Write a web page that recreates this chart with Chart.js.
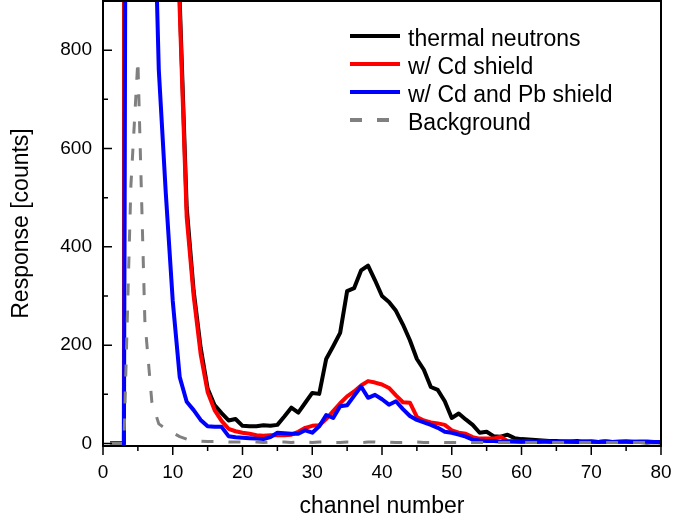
<!DOCTYPE html>
<html>
<head>
<meta charset="utf-8">
<script src="https://cdn.jsdelivr.net/npm/chart.js@4.4.0/dist/chart.umd.min.js"></script>
<style>
  html, body { margin: 0; padding: 0; background: #fff; }
  #wrap { width: 673px; height: 521px; }
</style>
</head>
<body>
<div id="wrap"><canvas id="grafico-espectro"></canvas></div>
<script>
// canais 1..80
const channels = Array.from({ length: 80 }, (_, i) => i + 1);

const thermal = [0, 0, 0, 20000, 16000, 12000, 9000, 6000, 4000, 2200,
    900, 480, 310, 195, 112, 78, 62, 47, 50, 36,
    35, 35, 37, 36, 38, 55, 73, 63, 83, 103,
    101, 172, 198, 225, 310, 316, 352, 362, 332, 300,
    288, 270, 242, 210, 172, 150, 115, 109, 86, 52,
    61, 49, 38, 22, 24, 15, 14, 18, 11, 9,
    8, 7, 6, 5, 5, 4, 4, 5, 3, 4,
    3, 4, 3, 3, 4, 3, 3, 2, 3, 2];

const cdShield = [0, 0, 0, 20000, 15000, 10000, 7000, 4500, 3000, 1800,
    880, 460, 300, 182, 105, 68, 46, 30, 25, 22,
    20, 17, 16, 17, 17, 17, 18, 24, 32, 36,
    37, 50, 66, 82, 96, 106, 118, 127, 124, 120,
    113, 98, 84, 83, 54, 47, 43, 41, 38, 27,
    22, 20, 13, 10, 10, 10, 14, 5, 4, 3,
    4, 3, 4, 3, 3, 4, 3, 3, 4, 3,
    3, 4, 3, 3, 3, 4, 3, 3, 3, 3];

const cdPbShield = [0, 0, 0, 5000, 4000, 2500, 1300, 760, 510, 290,
    135, 85, 68, 48, 35, 34, 34, 15, 13, 12,
    11, 10, 9, 13, 22, 21, 20, 20, 27, 22,
    35, 58, 52, 76, 78, 97, 116, 93, 99, 90,
    79, 86, 70, 56, 48, 43, 38, 32, 24, 22,
    18, 14, 8, 6, 5, 5, 4, 4, 4, 4,
    4, 3, 4, 4, 3, 4, 4, 3, 4, 4,
    3, 4, 3, 4, 4, 3, 4, 4, 3, 3];

const background = [0, 0, 0, 525, 780, 250, 85, 40, 30, 22,
    14, 9, 6, 5, 4, 4, 4, 3, 3, 3,
    3, 3, 2, 3, 3, 3, 2, 3, 3, 2,
    3, 3, 2, 2, 3, 3, 2, 3, 3, 2,
    3, 2, 2, 3, 3, 2, 2, 3, 2, 2,
    2, 3, 2, 2, 2, 2, 2, 2, 2, 2,
    2, 2, 2, 2, 2, 2, 2, 2, 2, 2,
    2, 2, 2, 2, 2, 2, 2, 2, 2, 2];

const legendLabels = ["thermal neutrons", "w/ Cd shield", "w/ Cd and Pb shield", "Background"];
const xTicks = [0, 10, 20, 30, 40, 50, 60, 70, 80];
const yTicks = [0, 200, 400, 600, 800];

const fonte = '"Liberation Sans", Arial, sans-serif';

function pontos(valores) {
    return channels.map((c, i) => ({ x: c, y: valores[i] }));
}

// zera o padding automatico dos eixos para fixar a area do grafico
function semPadding(s) {
    s.paddingTop = 0;
    s.paddingBottom = 0;
    s.paddingLeft = 0;
    s.paddingRight = 0;
}

// moldura, ticks maiores e menores
const molduraPlugin = {
    id: 'moldura',
    afterDraw(chart) {
        const { ctx, chartArea: a, scales: { x, y } } = chart;
        ctx.save();
        ctx.strokeStyle = '#000';
        ctx.lineWidth = 2;
        ctx.strokeRect(a.left, a.top, a.right - a.left, a.bottom - a.top);
        ctx.lineWidth = 1.5;
        ctx.beginPath();
        xTicks.forEach((v, i) => {
            const px = x.getPixelForValue(v);
            ctx.moveTo(px, a.bottom);
            ctx.lineTo(px, a.bottom + 9);
            if (i < xTicks.length - 1) {
                const pm = x.getPixelForValue((v + xTicks[i + 1]) / 2);
                ctx.moveTo(pm, a.bottom);
                ctx.lineTo(pm, a.bottom + 5);
            }
        });
        yTicks.forEach((v, i) => {
            const py = y.getPixelForValue(v);
            ctx.moveTo(a.left, py);
            ctx.lineTo(a.left + 9, py);
            const pm = y.getPixelForValue(v + 100);
            if (pm > a.top) {
                ctx.moveTo(a.left, pm);
                ctx.lineTo(a.left + 5, pm);
            }
        });
        ctx.stroke();
        ctx.restore();
    }
};

// legenda dentro da area do grafico
const legendaPlugin = {
    id: 'legenda',
    afterDraw(chart) {
        const { ctx } = chart;
        ctx.save();
        ctx.font = '23px ' + fonte;
        ctx.fillStyle = '#000';
        ctx.textBaseline = 'alphabetic';
        chart.data.datasets.forEach((ds, i) => {
            const ly = 36 + i * 28;
            ctx.beginPath();
            ctx.strokeStyle = ds.borderColor;
            ctx.lineWidth = 4;
            ctx.setLineDash(ds.borderDash || []);
            ctx.moveTo(350, ly);
            ctx.lineTo(400, ly);
            ctx.stroke();
            ctx.setLineDash([]);
            ctx.fillText(ds.label, 408, ly + 10);
        });
        ctx.restore();
    }
};

let dadosEspectro = {
    datasets: [{
        label: legendLabels[0],
        data: pontos(thermal),
        borderColor: "#000000",
        borderWidth: 4,
        order: 3
    }, {
        label: legendLabels[1],
        data: pontos(cdShield),
        borderColor: "#ff0000",
        borderWidth: 4,
        order: 2
    }, {
        label: legendLabels[2],
        data: pontos(cdPbShield),
        borderColor: "#0000ff",
        borderWidth: 4,
        order: 1
    }, {
        label: legendLabels[3],
        data: pontos(background),
        borderColor: "#808080",
        borderWidth: 3,
        borderDash: [12, 15],
        order: 0
    }]
};

const configEspectro = {
    type: "line",
    data: dadosEspectro,
    options: {
        responsive: false,
        animation: false,
        devicePixelRatio: 1,
        layout: { padding: { top: 1, right: 12, left: 0, bottom: 0 } },
        elements: { point: { radius: 0 }, line: { tension: 0, borderJoinStyle: 'round' } },
        plugins: {
            legend: { display: false },
            tooltip: { enabled: false }
        },
        scales: {
            x: {
                type: 'linear',
                min: 0,
                max: 80,
                grid: { display: false, drawTicks: false },
                border: { display: false },
                afterBuildTicks: (s) => { s.ticks = xTicks.map(v => ({ value: v })); },
                afterFit: (s) => { s.height = 75; semPadding(s); },
                ticks: {
                    autoSkip: false,
                    maxRotation: 0,
                    padding: 15,
                    color: '#000',
                    font: { family: fonte, size: 19 }
                },
                title: {
                    display: true,
                    text: 'channel number',
                    color: '#000',
                    padding: { top: 0, bottom: 1 },
                    font: { family: fonte, size: 23 }
                }
            },
            y: {
                type: 'linear',
                min: -5,
                max: 900,
                grid: { display: false, drawTicks: false },
                border: { display: false },
                afterBuildTicks: (s) => { s.ticks = yTicks.map(v => ({ value: v })); },
                afterFit: (s) => { s.width = 103; semPadding(s); },
                ticks: {
                    padding: 11,
                    color: '#000',
                    font: { family: fonte, size: 19 }
                },
                title: {
                    display: true,
                    text: 'Response [counts]',
                    color: '#000',
                    padding: { top: 8, bottom: 0 },
                    font: { family: fonte, size: 23 }
                }
            }
        }
    },
    plugins: [molduraPlugin, legendaPlugin]
};

const canvas = document.getElementById("grafico-espectro");
canvas.width = 673;
canvas.height = 521;
let myChartEspectro = new Chart(canvas, configEspectro);
</script>
</body>
</html>
